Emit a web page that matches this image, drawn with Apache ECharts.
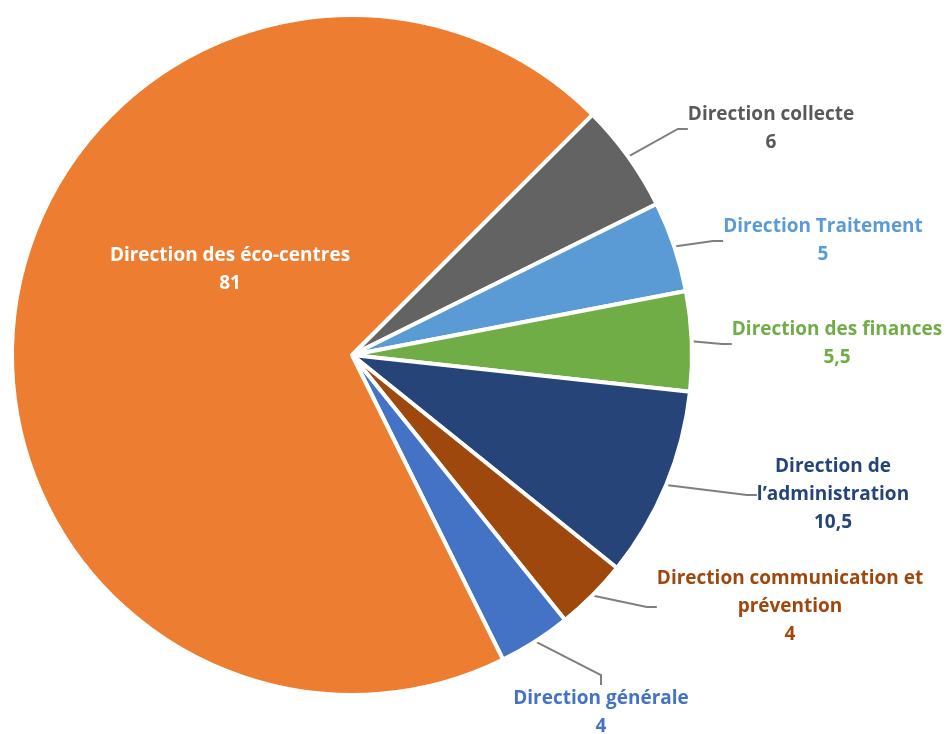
<!DOCTYPE html>
<html><head><meta charset="utf-8">
<script src="https://cdn.jsdelivr.net/npm/echarts@6/dist/echarts.min.js"></script>
<style>html,body{margin:0;padding:0;background:#fff}#c{width:946px;height:734px}</style>
</head><body><div id="c"></div>
<script>
const categories = ["Direction collecte","Direction Traitement","Direction des finances","Direction de\nl’administration","Direction communication et\nprévention","Direction générale","Direction des éco-centres"];
const values = [6,5,5.5,10.5,4,4,81];
const colors = ["#636363","#5B9BD5","#70AD47","#264478","#9E480E","#4472C4","#ED7D31"];
const labelColors = ["#595959","#5B9BD5","#70AD47","#264478","#9E480E","#4472C4","#ffffff"];
const labelPos = [[771,129],[823,241],[837,344],[833,495],[790,607],[601,713],[230,270]];

const chart = echarts.init(document.getElementById('c'), null, {renderer:'canvas'});
chart.setOption({
  animation:false,
  series:[{
    type:'pie',
    center:[352,355],
    radius:[0,340],
    startAngle:45,
    clockwise:true,
    avoidLabelOverlap:false,
    data: categories.map((n,i)=>({
      name:n, value:values[i],
      itemStyle:{color:colors[i]},
      label:{color:labelColors[i]},
      labelLine:{show:i!==6}
    })),
    itemStyle:{borderColor:'#fff',borderWidth:4},
    label:{
      show:true, position:'outside',
      fontFamily:'Open Sans', fontWeight:'bold', fontSize:19, lineHeight:28, align:'center',
      formatter:p=>p.name+'\n'+String(p.value).replace('.',',')
    },
    labelLine:{show:true,length:20,length2:10,smooth:false,lineStyle:{color:'#7F7F7F',width:2}},
    labelLayout:function(p){
      const pos = labelPos[p.dataIndex];
      return {x:pos[0],y:pos[1],align:'center',verticalAlign:'middle'};
    }
  }]
});
</script></body></html>
